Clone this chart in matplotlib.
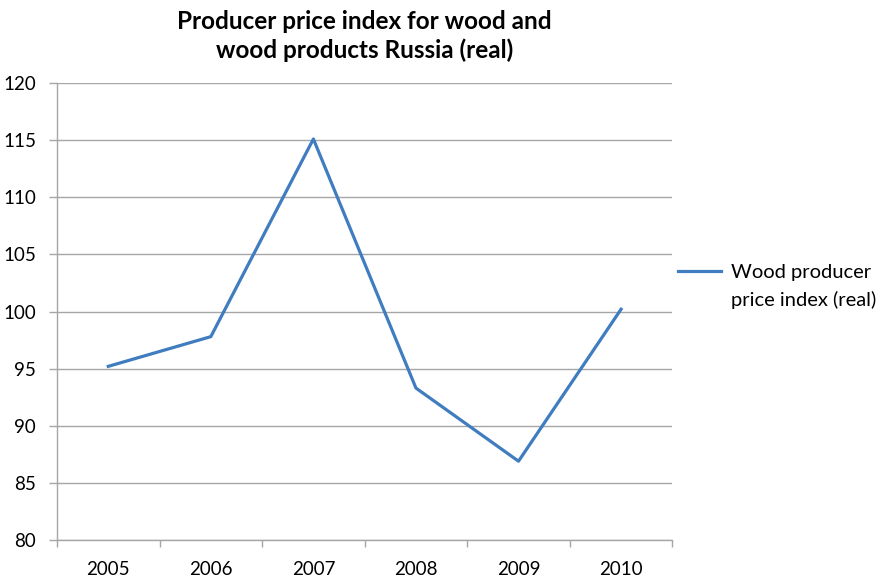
import numpy as np
import matplotlib.pyplot as plt
from matplotlib.ticker import FixedLocator

# data
years = ["2005", "2006", "2007", "2008", "2009", "2010"]
ppi_real = [95.2, 97.8, 115.1, 93.3, 86.9, 100.2]

TITLE = "Producer price index for wood and\nwood products Russia (real)"
LEGEND_LINE1 = "Wood producer"
LEGEND_LINE2 = "price index (real)"
LINE_COLOR = "#3f7cc0"
GRID_COLOR = "#a6a6a6"

plt.rcParams['font.family'] = ['Lato', 'DejaVu Sans']

fig = plt.figure(figsize=(8.82, 5.78), dpi=100)
ax = fig.add_axes([0.0646, 0.0657, 0.6977, 0.7907])

x = np.arange(len(years))
ax.plot(x, ppi_real, color=LINE_COLOR, linewidth=2.3, label=LEGEND_LINE1,
        solid_joinstyle='round')
# second legend row carries the wrapped part of the label (excel style)
ax.plot([], [], color='none', label=LEGEND_LINE2)

ax.set_ylim(80, 120)
ax.set_yticks(np.arange(80, 121, 5))
ax.set_xlim(-0.5, len(years) - 0.5)
ax.set_xticks(x)
ax.set_xticklabels(years)
# category boundaries get the tick marks, labels sit in between
ax.xaxis.set_minor_locator(FixedLocator(np.arange(-0.5, len(years), 1.0)))
ax.tick_params(axis='x', which='major', length=0, pad=15, labelsize=13.5)
ax.tick_params(axis='x', which='minor', length=5, width=1, color=GRID_COLOR)
ax.tick_params(axis='y', length=6, width=1, color=GRID_COLOR, pad=9, labelsize=13.5)

ax.grid(True, axis='y', color=GRID_COLOR, linewidth=1)
ax.set_axisbelow(True)
for side in ['top', 'right']:
    ax.spines[side].set_visible(False)
for side in ['left', 'bottom']:
    ax.spines[side].set_color(GRID_COLOR)
    ax.spines[side].set_linewidth(1)

ax.set_title(TITLE, fontsize=17.5, fontweight='bold', pad=18, linespacing=1.3)

ax.legend(loc='center left', bbox_to_anchor=(1.0, 0.555), frameon=False,
          fontsize=14.5, handlelength=2.1, handletextpad=0.5, borderaxespad=0,
          borderpad=0.3, labelspacing=0.5)

fig.savefig("out.png", dpi=100)
